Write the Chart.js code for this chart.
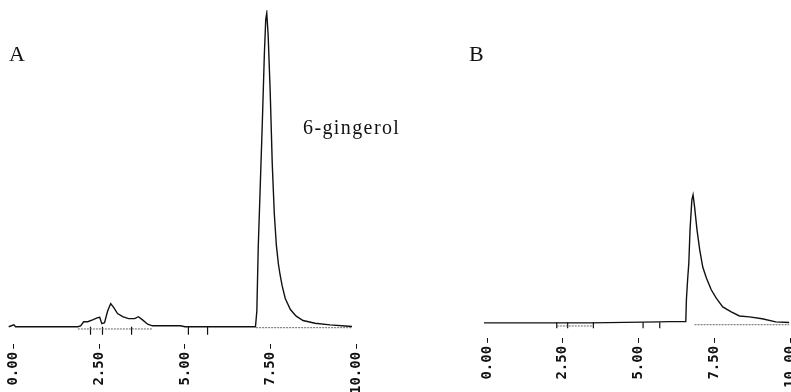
<!DOCTYPE html>
<html>
<head>
<meta charset="utf-8">
<style>
  html, body { margin: 0; padding: 0; overflow: hidden; background: #fff; width: 791px; height: 392px; }
  .panel { position: absolute; top: 0; height: 392px; }
  .txt { position: absolute; font-family: 'Liberation Serif', serif; color: #111; line-height: 1; white-space: nowrap; }
</style>
</head>
<body>
<div class="panel" style="left:0; width:376px;"><canvas id="chartA"></canvas></div>
<div class="panel" style="left:470px; width:340px;"><canvas id="chartB"></canvas></div>
<div class="txt" style="left:9px; top:43px; font-size:22px;">A</div>
<div class="txt" style="left:469px; top:43px; font-size:22px;">B</div>
<div class="txt" style="left:303px; top:117px; font-size:20px; letter-spacing:1.4px;">6-gingerol</div>

<script src="https://cdn.jsdelivr.net/npm/chart.js"></script>

<script>
  // retention time ticks (min)
  const tickTimes = [0, 2.5, 5, 7.5, 10]

  // chromatogram A
  const timeA = [-0.15, 0, 0.05, 1.87, 1.95, 2.04, 2.16, 2.30, 2.45, 2.51, 2.57, 2.65, 2.74, 2.83, 2.92, 3.03, 3.18, 3.35, 3.53, 3.64, 3.76, 3.91, 4.05, 4.50, 4.87, 5.00,
    7.06, 7.10, 7.14, 7.20, 7.26, 7.32, 7.36, 7.39, 7.43, 7.49, 7.55, 7.61, 7.67, 7.73, 7.78, 7.84, 7.93, 8.08, 8.25, 8.45, 8.80, 9.24, 9.68, 9.88]
  const signalA = [0, 0.6, 0, 0, 0.3, 1.6, 1.6, 2.2, 2.9, 3.0, 1.0, 1.3, 5.0, 7.4, 6.1, 4.2, 3.2, 2.6, 2.6, 3.2, 2.2, 0.8, 0.3, 0.3, 0.3, 0,
    0, 5, 25, 45, 65, 87, 98, 100, 93, 75, 52, 36, 26, 20, 16.5, 13, 9, 5.5, 3.4, 2.0, 1.1, 0.6, 0.25, 0.1]
  const baselineA = [[1.87, 4.05, -0.7], [7.08, 9.88, -0.3]]   // [start, end, level]
  const eventsA = [2.24, 2.59, 3.44, 5.10, 5.66]

  // chromatogram B
  const timeB = [-0.1, 3.4, 5.7, 6.0, 6.56, 6.58, 6.62, 6.66, 6.70, 6.76, 6.80, 6.85, 6.93, 7.02, 7.12, 7.24, 7.40, 7.56, 7.78, 8.06, 8.33, 8.66, 9.08, 9.53, 9.97]
  const signalB = [0, 0, 0.3, 0.4, 0.4, 7.4, 13.8, 19.2, 29.8, 39.4, 41, 37.2, 29.8, 23.4, 17.9, 14.4, 10.6, 8.0, 5.1, 3.5, 2.2, 1.9, 1.3, 0.3, 0.1]
  const baselineB = [[2.30, 3.51, -1.0], [6.85, 9.97, -0.6]]
  const eventsB = [2.30, 2.66, 3.51, 5.15, 5.70]

  function baseSegments(segs) {
    const out = []
    segs.forEach(s => {
      out.push({ x: s[0], y: s[2] }, { x: s[1], y: s[2] }, { x: s[1], y: null })
    })
    return out
  }

  function makeChart(id, time, signal, base, events, evY, evR, yMin, yMax, pad) {
    new Chart(document.getElementById(id), {
      type: 'line',
      data: {
        datasets: [
          {
            data: time.map((t, i) => ({ x: t, y: signal[i] })),
            borderColor: '#111',
            borderWidth: 1.4,
            pointRadius: 0,
            tension: 0
          },
          {
            data: baseSegments(base),
            borderColor: '#666',
            borderWidth: 1,
            borderDash: [2, 1],
            pointRadius: 0,
            spanGaps: false
          },
          {
            data: events.map(t => ({ x: t, y: evY })),
            showLine: false,
            pointStyle: 'line',
            rotation: 90,
            radius: evR,
            borderColor: '#111',
            borderWidth: 1.2
          }
        ]
      },
      options: {
        responsive: true,
        maintainAspectRatio: false,
        animation: false,
        layout: { padding: pad },
        plugins: { legend: { display: false }, tooltip: { enabled: false } },
        scales: {
          x: {
            type: 'linear',
            min: -0.2,
            max: 10.2,
            afterBuildTicks: scale => { scale.ticks = tickTimes.map(v => ({ value: v })) },
            border: { display: false },
            grid: { drawOnChartArea: false, drawTicks: true, tickLength: 5, color: '#111', lineWidth: 1 },
            ticks: {
              autoSkip: false,
              minRotation: 90,
              maxRotation: 90,
              padding: 3,
              color: '#111',
              font: { family: 'DejaVu Sans Mono', size: 14, weight: 'bold' },
              callback: v => v.toFixed(2)
            }
          },
          y: { display: false, min: yMin, max: yMax }
        }
      }
    })
  }

  makeChart('chartA', timeA, signalA, baselineA, eventsA, -1.3, 4, -5.45, 100.96, { left: 7, right: 3, top: 10, bottom: -5 })
  makeChart('chartB', timeB, signalB, baselineB, eventsB, -0.8, 3, -4.81, 100.3, { left: 11, right: 10, top: 10, bottom: 1 })
</script>
</body>
</html>
